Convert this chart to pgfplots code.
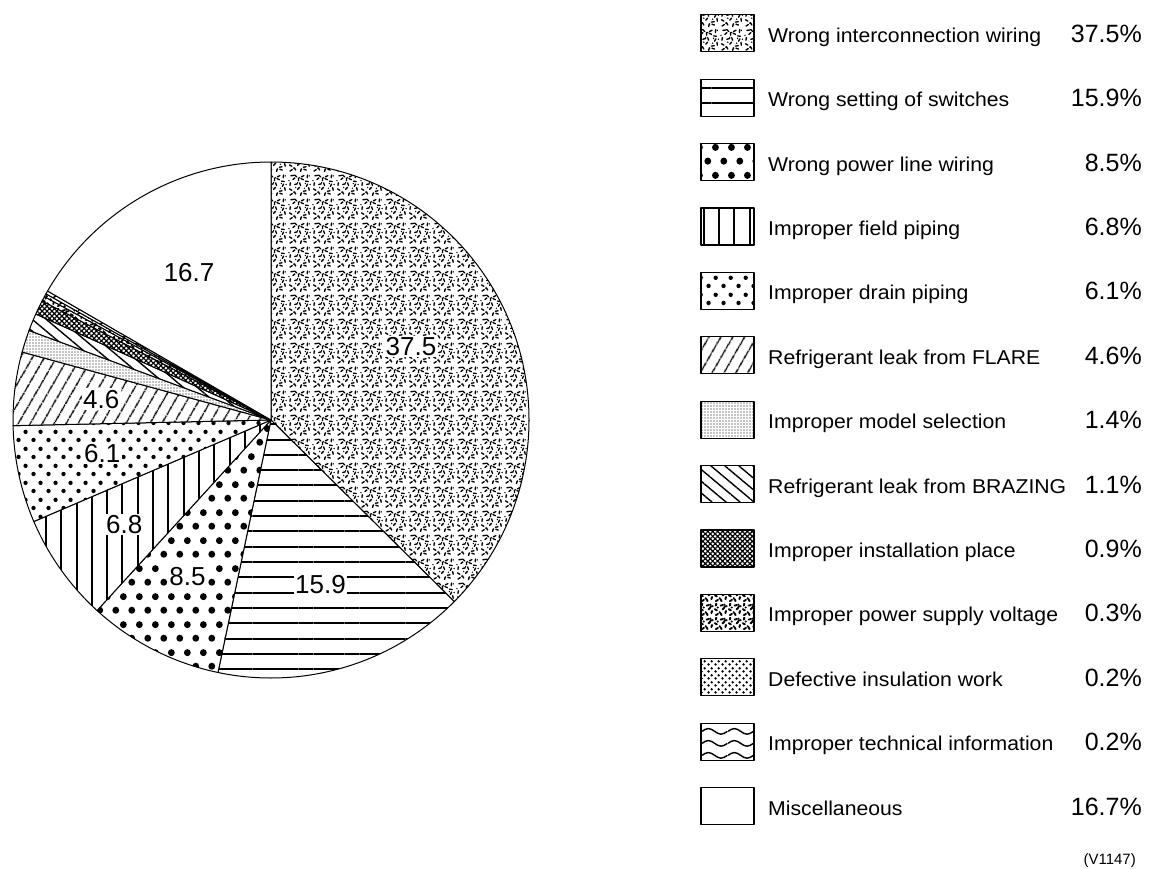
\documentclass[border=0pt]{standalone}
\usepackage{fontspec}
\setmainfont{Liberation Sans}
\newfontfamily\txtfont[FakeStretch=1.06]{Liberation Sans}
\newfontfamily\numfont{Liberation Sans}
\usepackage{pgfplots}
\pgfplotsset{compat=1.18}
\usepackage{pgfplotstable}
\usetikzlibrary{patterns,patterns.meta}

\newcommand\legfont{\txtfont\fontsize{20}{23}\selectfont}
\newcommand\pctfont{\numfont\fontsize{25}{28}\selectfont}
\newcommand\piefont{\numfont\fontsize{26}{29}\selectfont}

\tikzdeclarepattern{
  name=Speckle, type=uncolored,
  bottom left={(0pt,0pt)}, top right={(24pt,24pt)}, tile size={(24pt,24pt)},
  code={
    \foreach \x/\y/\a in {2/2/30,8/3/120,13/1.5/75,19/3/160,22/7/100,4/7/150,10/8/45,16/6/10,2/12/80,7/13/15,13/12/110,19/11/60,21/16/170,5/18/40,11/17/95,16/18/155,3/22/10,9/21/140,14/21/25,20/20/85}
      {\draw[line width=1.4pt,line cap=round] (\x pt,\y pt) -- ++(\a:2.8pt);}
    \foreach \x/\y in {6/5,17/9,10/15,23/13,1/17,14/4,22/22,8/10,18/14,12/20}
      {\fill (\x pt,\y pt) circle (0.8pt);}
  }
}
\tikzdeclarepattern{
  name=SpeckleDark, type=uncolored,
  bottom left={(0pt,0pt)}, top right={(14pt,14pt)}, tile size={(14pt,14pt)},
  code={
    \foreach \x/\y/\a in {2/2/30,8/2/120,12/4/75,3/7/150,9/8/45,11/11/10,2/12/80,7/12/15}
      {\draw[line width=2pt,line cap=round] (\x pt,\y pt) -- ++(\a:2.5pt);}
    \foreach \x/\y in {6/5,11/13,4/10}
      {\fill (\x pt,\y pt) circle (1.2pt);}
  }
}
\tikzdeclarepattern{
  name=BigDots, type=uncolored,
  bottom left={(0pt,0pt)}, top right={(16pt,28pt)}, tile size={(16pt,28pt)},
  code={\fill (4pt,7pt) circle (3.6pt); \fill (12pt,21pt) circle (3.6pt);}
}
\tikzdeclarepattern{
  name=SmallDots, type=uncolored,
  bottom left={(0pt,0pt)}, top right={(15pt,17pt)}, tile size={(15pt,17pt)},
  code={\fill (3.75pt,4.25pt) circle (2.3pt); \fill (11.25pt,12.75pt) circle (2.3pt);}
}
\tikzdeclarepattern{
  name=TinyDots, type=uncolored,
  bottom left={(0pt,0pt)}, top right={(7pt,7pt)}, tile size={(7pt,7pt)},
  code={\fill (1.75pt,1.75pt) circle (1.5pt); \fill (5.25pt,5.25pt) circle (1.5pt);}
}
\tikzdeclarepattern{
  name=Waves, type=uncolored,
  bottom left={(0pt,0pt)}, top right={(26pt,12pt)}, tile size={(26pt,12pt)},
  code={\draw[line width=1.5pt] (0pt,6pt) sin (6.5pt,9pt) cos (13pt,6pt) sin (19.5pt,3pt) cos (26pt,6pt);}
}

\tikzset{
  p0/.style={pattern=Speckle},
  p1/.style={pattern={Lines[angle=0,distance=15.3pt,line width=2pt]}},
  p2/.style={pattern=BigDots},
  p3/.style={pattern={Lines[angle=90,distance=15.3pt,line width=2pt]}},
  p4/.style={pattern=SmallDots},
  p5/.style={pattern={Lines[angle=60,distance=10.5pt,line width=1.5pt]}},
  p6/.style={pattern={Dots[distance=3pt,radius=0.65pt]}},
  p7/.style={pattern={Lines[angle=-40,distance=9pt,line width=1.4pt]}},
  p8/.style={pattern={Hatch[angle=45,distance=3.5pt,line width=1.2pt]}},
  p9/.style={pattern=SpeckleDark},
  p10/.style={pattern=TinyDots},
  p11/.style={pattern=Waves},
  p12/.style={},
  pieslice/.style={draw=black,line width=1pt,preaction={fill=white},pattern color=black,line join=round},
  pielabel/.style={fill=white,inner sep=1.5pt,font=\piefont,anchor=center},
}

\pgfplotstableread[col sep=comma]{
name,value,lr,ldel
Wrong interconnection wiring,37.5,158,5
Wrong setting of switches,15.9,172,0
Wrong power line wiring,8.5,177,-1
Improper field piping,6.8,180,0
Improper drain piping,6.1,172,-1
Refrigerant leak from FLARE,4.6,171,0
Improper model selection,1.4,0,0
Refrigerant leak from BRAZING,1.1,0,0
Improper installation place,0.9,0,0
Improper power supply voltage,0.3,0,0
Defective insulation work,0.2,0,0
Improper technical information,0.2,0,0
Miscellaneous,16.7,169,-1
}\piedata

\def\total{0}
\pgfplotsforeachungrouped \i in {0,...,12}{%
  \pgfplotstablegetelem{\i}{value}\of\piedata
  \pgfmathsetmacro\total{\total+\pgfplotsretval}%
}

\begin{document}
\begin{tikzpicture}
\begin{axis}[
  width=1150pt, height=868pt, scale only axis,
  xmin=0, xmax=1150, ymin=0, ymax=868, y dir=reverse,
  hide axis, clip=false,
]
\path (axis cs:0,0) rectangle (axis cs:1150,868);
% slices
\def\astart{90}
\pgfplotsforeachungrouped \i in {0,...,12}{%
  \pgfplotstablegetelem{\i}{value}\of\piedata \let\v\pgfplotsretval
  \pgfmathsetmacro\aend{\astart-360*\v/\total}%
  \edef\cmd{\noexpand\draw[pieslice,p\i] (axis cs:271,420) -- ++(\astart:258pt) arc[start angle=\astart,end angle=\aend,radius=258pt] -- cycle;}%
  \cmd
  \let\astart\aend
}
% slice labels
\def\astart{90}
\pgfplotsforeachungrouped \i in {0,...,12}{%
  \pgfplotstablegetelem{\i}{value}\of\piedata \let\v\pgfplotsretval
  \pgfplotstablegetelem{\i}{lr}\of\piedata \let\lr\pgfplotsretval
  \pgfplotstablegetelem{\i}{ldel}\of\piedata \let\ldel\pgfplotsretval
  \pgfmathsetmacro\amid{\astart-180*\v/\total+\ldel}%
  \pgfmathsetmacro\aend{\astart-360*\v/\total}%
  \ifdim \lr pt>0pt
    \edef\cmd{\noexpand\path (axis cs:271,420) ++(\amid:\lr pt) node[pielabel] {\v};}%
    \cmd
  \fi
  \let\astart\aend
}
% legend
\pgfplotsforeachungrouped \i in {0,...,12}{%
  \pgfplotstablegetelem{\i}{value}\of\piedata \let\v\pgfplotsretval
  \pgfplotstablegetelem{\i}{name}\of\piedata \let\nm\pgfplotsretval
  \pgfmathsetmacro\yc{33.3+64.4*\i}%
  \pgfmathsetmacro\ya{\yc-18.5}%
  \pgfmathsetmacro\yb{\yc+18.5}%
  \pgfmathsetmacro\ybase{\yc+9}%
  \edef\cmd{\noexpand\draw[pieslice,line width=1.3pt,p\i] (axis cs:701,\ya) rectangle (axis cs:754,\yb);
    \noexpand\node[anchor=base west,inner sep=0pt,font=\noexpand\legfont] at (axis cs:768,\ybase) {\nm};
    \noexpand\node[anchor=base east,inner sep=0pt,font=\noexpand\pctfont] at (axis cs:1142,\ybase) {\v\noexpand\%};}%
  \cmd
}
\node[anchor=base east,inner sep=0pt,font=\fontsize{15}{18}\selectfont] at (axis cs:1136,864) {(V1147)};
\end{axis}
\end{tikzpicture}
\end{document}
